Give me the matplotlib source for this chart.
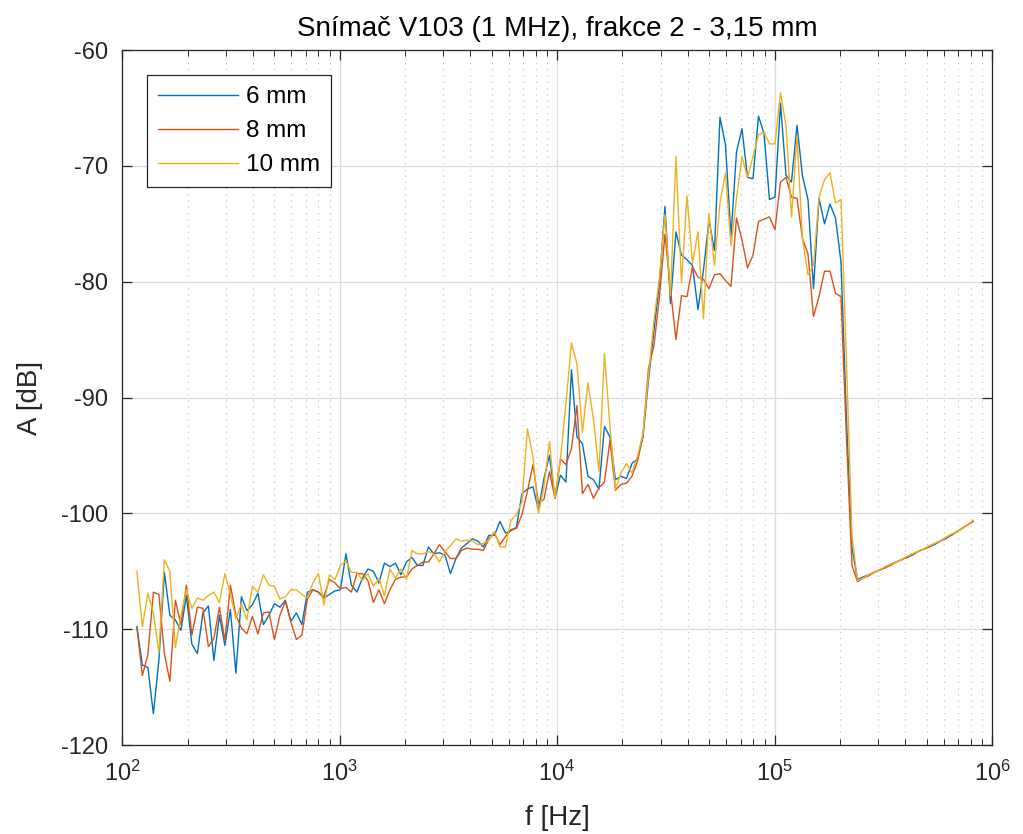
import numpy as np
import matplotlib
matplotlib.use('Agg')
import matplotlib.pyplot as plt
from matplotlib.ticker import LogLocator, FixedLocator, NullFormatter

plt.rcParams['font.family'] = ['Liberation Sans', 'DejaVu Sans']
plt.rcParams['mathtext.default'] = 'regular'
plt.rcParams['axes.unicode_minus'] = False

# frequency grid of the measurement (log spaced)
f_start = 117.0
f_stop = 818000.0

a_6mm = [-109.8, -113.1, -113.3, -117.3, -112.7, -105.1, -108.8, -109.2, -110.1, -107.1,
         -111.3, -112.1, -108.6, -108.0, -112.7, -108.8, -111.4, -108.3, -113.8, -107.2,
         -108.4, -107.9, -106.9, -109.6, -108.8, -107.8, -108.1, -107.5, -109.3, -108.6,
         -109.6, -106.8, -106.6, -106.8, -107.3, -107.0, -106.7, -106.6, -103.5, -106.2,
         -106.8, -105.6, -104.8, -105.0, -106.0, -104.3, -104.6, -104.3, -105.3, -104.2,
         -103.8, -104.5, -104.5, -102.9, -103.5, -103.4, -103.6, -105.2, -103.9, -103.0,
         -102.6, -102.2, -102.4, -102.9, -101.9, -101.9, -100.7, -101.7, -101.5, -101.2,
         -98.3, -97.9, -97.7, -99.7, -97.0, -95.0, -98.7, -96.7, -97.3, -87.6,
         -93.4, -94.0, -96.8, -97.1, -97.9, -92.5, -93.4, -97.1, -96.8, -97.0,
         -95.7, -95.3, -93.4, -88.5, -84.2, -80.1, -73.5, -81.9, -75.7, -77.7,
         -78.1, -78.6, -82.4, -79.0, -74.7, -77.3, -65.8, -68.2, -76.1, -68.8,
         -66.8, -71.0, -71.1, -65.7, -67.2, -72.9, -72.7, -64.6, -70.8, -71.4,
         -66.5, -70.9, -72.9, -80.6, -72.8, -75.0, -73.3, -74.5, -78.3, -92.0,
         -103.0, -105.7, -105.5, -105.3, -105.1, -104.9, -104.7, -104.4, -104.2, -104.0,
         -103.8, -103.6, -103.3, -103.1, -102.9, -102.7, -102.4, -102.2, -101.9, -101.6,
         -101.3, -101.0, -100.7]

a_8mm = [-109.8, -114.0, -112.2, -106.8, -107.0, -112.1, -114.5, -107.5, -109.6, -106.2,
         -110.5, -108.1, -108.2, -111.5, -110.8, -108.1, -111.0, -106.2, -108.8, -109.9,
         -110.4, -108.9, -110.4, -108.6, -108.5, -110.9, -108.8, -107.6, -109.4, -110.9,
         -110.5, -107.4, -106.6, -106.8, -107.2, -105.7, -106.0, -106.5, -106.4, -106.8,
         -105.2, -105.2, -105.8, -107.7, -106.6, -107.8, -106.6, -105.7, -105.5, -105.5,
         -104.8, -104.5, -104.2, -104.2, -103.5, -102.7, -103.3, -103.9, -103.9, -103.2,
         -103.0, -103.1, -103.1, -103.2, -102.2, -101.7, -102.7, -102.0, -101.4, -101.3,
         -100.1, -98.1, -95.8, -99.1, -98.8, -96.4, -98.7, -95.3, -95.8, -94.4,
         -90.7, -98.3, -97.5, -98.7, -97.8, -97.3, -93.7, -98.0, -97.5, -97.4,
         -96.8, -95.5, -93.3, -87.5, -85.5, -81.3, -75.9, -80.7, -85.0, -81.2,
         -81.3, -78.7, -79.6, -79.8, -80.6, -79.4, -79.3, -79.9, -80.4, -74.5,
         -76.4, -78.8, -77.7, -74.8, -74.6, -74.4, -75.5, -71.4, -71.0, -72.7,
         -72.8, -76.3, -77.6, -83.0, -81.3, -79.1, -79.1, -81.0, -81.3, -93.6,
         -104.5, -105.9, -105.6, -105.4, -105.1, -104.9, -104.7, -104.5, -104.2, -104.0,
         -103.8, -103.5, -103.3, -103.1, -102.9, -102.6, -102.4, -102.1, -101.9, -101.6,
         -101.3, -101.0, -100.7]

a_10mm = [-105.0, -109.8, -106.9, -108.6, -112.0, -104.0, -105.0, -111.6, -108.9, -106.6,
          -108.2, -107.3, -107.5, -107.1, -106.8, -107.7, -105.2, -107.0, -109.1, -107.8,
          -109.2, -106.3, -106.8, -105.3, -106.2, -106.3, -107.4, -107.2, -106.6, -106.6,
          -107.0, -107.3, -106.0, -105.2, -107.9, -105.3, -105.7, -104.5, -104.1, -105.1,
          -105.1, -105.8, -105.2, -106.3, -105.6, -107.1, -104.8, -105.6, -104.8, -105.7,
          -103.2, -103.5, -103.5, -103.3, -103.5, -104.2, -103.3, -102.8, -102.2, -102.4,
          -102.3, -102.4, -102.7, -102.6, -102.3, -101.6, -102.9, -102.9, -100.6, -100.1,
          -99.0, -92.7, -95.1, -100.0, -97.7, -93.8, -98.7, -95.3, -90.5, -85.3,
          -87.1, -93.0, -88.7, -91.9, -96.4, -86.2, -92.5, -97.9, -96.5, -95.7,
          -96.5, -95.1, -93.1, -88.1, -83.3, -79.6, -74.2, -81.2, -69.2, -80.1,
          -72.6, -78.4, -75.7, -83.2, -74.1, -78.6, -73.2, -70.6, -76.9, -72.8,
          -69.2, -71.0, -69.2, -67.3, -67.1, -68.1, -68.1, -63.7, -66.5, -74.4,
          -67.5, -76.3, -79.4, -78.6, -72.7, -71.2, -70.6, -73.2, -72.9, -87.0,
          -102.0, -105.8, -105.6, -105.3, -105.1, -104.9, -104.6, -104.4, -104.2, -104.0,
          -103.7, -103.5, -103.3, -103.1, -102.8, -102.6, -102.4, -102.1, -101.8, -101.6,
          -101.3, -101.0, -100.6]

labels = ['6 mm', '8 mm', '10 mm']
colors = ['#0072BD', '#D95319', '#EDB120']

f = np.geomspace(f_start, f_stop, len(a_6mm))

fig = plt.figure(figsize=(10.23, 8.34), dpi=100)
ax = fig.add_axes([0.1193, 0.1067, 0.8504, 0.8333])

for a, lab, c in zip([a_6mm, a_8mm, a_10mm], labels, colors):
    ax.plot(f, a, color=c, lw=1.0, label=lab)

ax.set_xscale('log')
ax.set_xlim(1e2, 1e6)
ax.set_ylim(-120, -60)
ax.yaxis.set_major_locator(FixedLocator(np.arange(-120, -59, 10)))
ax.xaxis.set_major_locator(LogLocator(base=10, numticks=10))
ax.xaxis.set_minor_locator(LogLocator(base=10, subs=np.arange(2, 10), numticks=20))
ax.xaxis.set_minor_formatter(NullFormatter())

# matlab like grid
ax.grid(True, which='major', color='#dcdcdc', lw=0.9, ls='-')
ax.grid(True, which='minor', axis='x', color='#c8c8c8', lw=0.9, ls=(0, (1, 4)))
ax.set_axisbelow(True)

for s in ax.spines.values():
    s.set_color('#262626')
    s.set_linewidth(0.9)
ax.tick_params(which='both', direction='in', top=True, right=True, colors='#262626',
               labelsize=17, labelcolor='#262626')
ax.tick_params(which='major', length=7, width=0.9)
ax.tick_params(which='minor', length=4, width=0.7)
ax.tick_params(axis='x', which='major', pad=11)
ax.tick_params(axis='y', which='major', pad=10)

ax.set_xlabel('f [Hz]', fontsize=20, color='#262626', labelpad=14)
ax.set_ylabel('A [dB]', fontsize=20, color='#262626', labelpad=13)
ax.set_title('Snímač V103 (1 MHz), frakce 2 - 3,15 mm', fontsize=20, color='#000000', pad=10)

leg = ax.legend(loc='upper left', bbox_to_anchor=(0.029, 0.964), borderaxespad=0,
                fontsize=17.5, fancybox=False, framealpha=1, edgecolor='#262626',
                handlelength=3.3, handletextpad=0.3, borderpad=0.45, labelspacing=0.5)
leg.get_frame().set_linewidth(0.9)

fig.savefig('out.png', dpi=100)
